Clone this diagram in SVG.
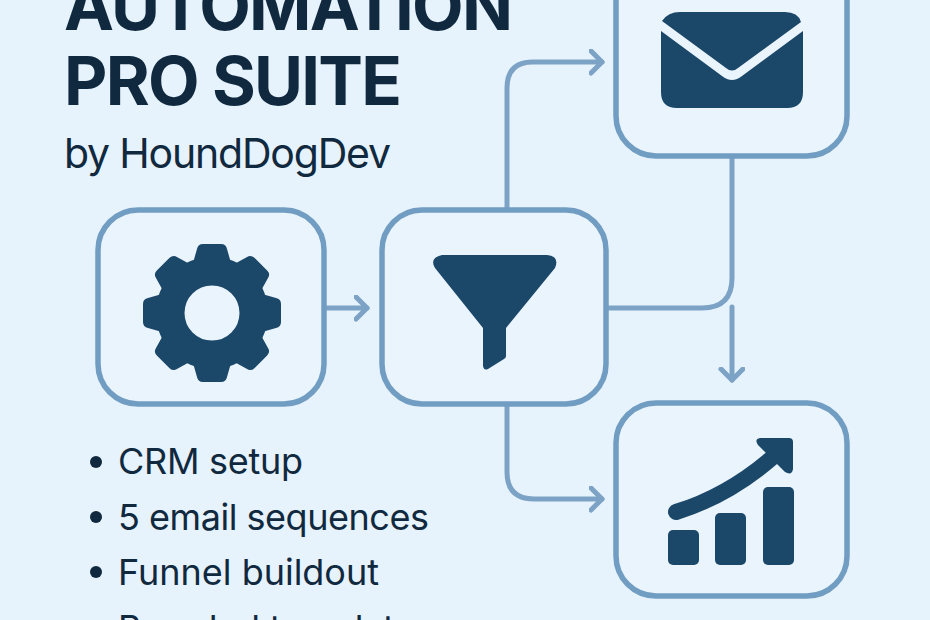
<svg xmlns="http://www.w3.org/2000/svg" width="930" height="620" viewBox="0 0 930 620">
<style>
.t{font-family:Inter,"Liberation Sans",sans-serif;fill:#10293e}
.h{font-size:67px;font-weight:700}
.s{font-size:41px;font-weight:400}
.l{font-size:36px;font-weight:400}
.box{fill:#e9f4fd;stroke:#719dc2;stroke-width:5.5}
.ic{fill:#1b4769}
.dot{fill:#10293e}
.c{fill:none;stroke:#7ca3c5;stroke-width:5;stroke-linecap:round;stroke-linejoin:round}
</style>
<defs>
<marker id="a" markerUnits="userSpaceOnUse" markerWidth="20" markerHeight="30" refX="13" refY="13" orient="auto"><path d="M2 2L13 13L2 24" fill="none" stroke="#7ca3c5" stroke-width="5" stroke-linecap="round" stroke-linejoin="round"/></marker>
<path id="tooth" d="M-19 -50L-15 -64Q-14 -69 -9 -69H9Q14 -69 15 -64L19 -50Z"/>
</defs>
<rect width="930" height="620" fill="#e6f2fc"/>
<g id="title">
<text class="t h" x="64" y="30" textLength="449">AUTOMATION</text>
<text class="t h" x="64" y="105" textLength="338">PRO SUITE</text>
<text class="t s" x="64" y="168" textLength="327">by HoundDogDev</text>
</g>
<g id="connectors">
<path class="c" d="M327 308H367" marker-end="url(#a)"/>
<path class="c" d="M507 208V88Q507 62 533 62H602" marker-end="url(#a)"/>
<path class="c" d="M507 406V472Q507 499 534 499H602" marker-end="url(#a)"/>
<path class="c" d="M609 308H702Q732 308 732 278V158"/>
<path class="c" d="M732 307V380" marker-end="url(#a)"/>
</g>
<g id="node-gear">
<rect class="box" x="98" y="210" width="226" height="194" rx="40"/>
<circle cx="212" cy="313" r="41.75" fill="none" stroke="#1b4769" stroke-width="28.5"/>
<g class="ic" transform="translate(212 313)">
<use href="#tooth"/>
<use href="#tooth" transform="rotate(45)"/>
<use href="#tooth" transform="rotate(90)"/>
<use href="#tooth" transform="rotate(135)"/>
<use href="#tooth" transform="rotate(180)"/>
<use href="#tooth" transform="rotate(225)"/>
<use href="#tooth" transform="rotate(270)"/>
<use href="#tooth" transform="rotate(315)"/>
</g>
</g>
<g id="node-funnel">
<rect class="box" x="382" y="210" width="224" height="194" rx="40"/>
<path class="ic" d="M442 255H547Q560 256 555 268L506 328V356Q506 358 504 359L488 369Q484 371 483 366V328L435 268Q429 258 442 255Z"/>
</g>
<g id="node-email">
<rect class="box" x="616" y="-40" width="231" height="196" rx="40"/>
<path class="ic" d="M662 21Q668 12 680 12H785Q798 12 801 22L738 68Q732 73 726 68Z"/>
<path class="ic" d="M661 31L722 76Q732 84 742 76L803 31V92Q803 108 787 108H677Q661 108 661 92Z"/>
</g>
<g id="node-chart">
<rect class="box" x="616" y="403" width="231" height="193" rx="40"/>
<rect class="ic" x="668" y="530" width="31" height="35" rx="5"/>
<rect class="ic" x="715" y="513" width="31" height="52" rx="5"/>
<rect class="ic" x="763" y="487" width="31" height="78" rx="5"/>
<path d="M676 512Q728 496 773 457" fill="none" stroke="#1b4769" stroke-width="16" stroke-linecap="round"/>
<path class="ic" d="M760 438H789Q793 438 793 442V469Q792 476 785 472L758 445Q754 439 760 438Z"/>
</g>
<g id="features">
<circle class="dot" cx="96" cy="462" r="6"/>
<circle class="dot" cx="96" cy="517" r="6"/>
<circle class="dot" cx="96" cy="572" r="6"/>
<circle class="dot" cx="96" cy="628" r="6"/>
<text class="t l" x="118" y="474" textLength="185">CRM setup</text>
<text class="t l" x="118" y="530" textLength="311">5 email sequences</text>
<text class="t l" x="118" y="585" textLength="261">Funnel buildout</text>
<text class="t l" x="118" y="641" textLength="316">Branded templates</text>
</g>
</svg>
